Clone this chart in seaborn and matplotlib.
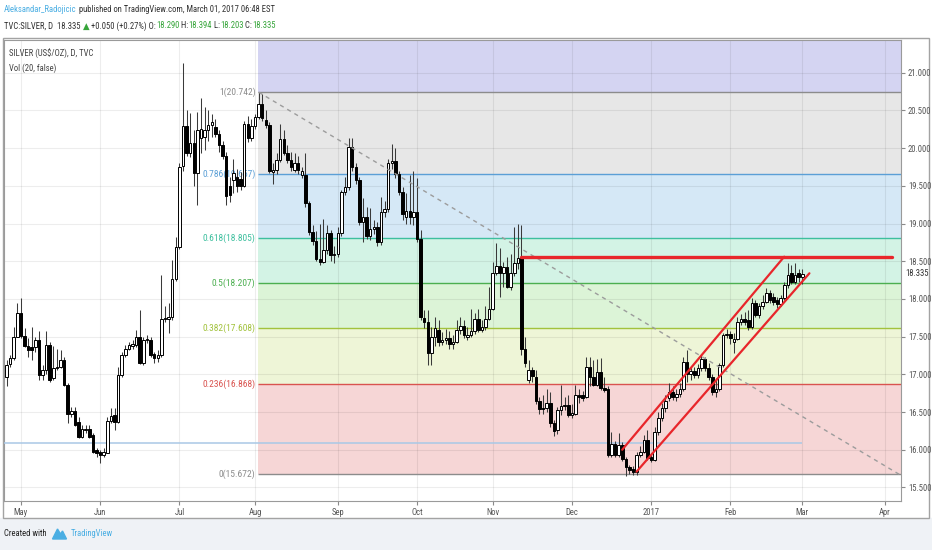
import numpy as np
import pandas as pd
import matplotlib
matplotlib.use("Agg")
import matplotlib.pyplot as plt
import matplotlib.patches as mpatches
from matplotlib import font_manager
import seaborn as sns

## DATA - daily SILVER candles (26 Apr 2016 -> 1 Mar 2017)
first_day = "2016-04-26"
axis_end = "2017-04-28"

opens = [
    16.97, 17.14, 17.21, 17.50, 17.81, 17.51, 17.37, 17.36, 17.36, 17.46,
    16.99, 17.06, 17.39, 16.95, 17.08, 17.10, 17.19, 16.86, 16.47, 16.52,
    16.37, 16.17, 16.26, 16.28, 16.20, 15.99, 15.97, 15.93, 15.96, 16.38,
    16.46, 16.37, 16.99, 17.26, 17.33, 17.38, 17.39, 17.49, 17.15, 17.45,
    17.46, 17.27, 17.21, 17.26, 17.73, 17.74, 17.76, 18.26, 18.69, 19.76,
    20.29, 19.93, 20.07, 19.67, 20.13, 20.15, 20.24, 20.31, 20.28, 20.19,
    20.04, 19.89, 19.50, 19.58, 19.62, 19.59, 19.50, 20.32, 20.13, 20.29,
    20.41, 20.59, 20.37, 20.31, 19.68, 19.71, 19.84, 20.12, 19.93, 19.84,
    19.71, 19.80, 19.65, 19.65, 19.27, 18.89, 18.77, 18.53, 18.49, 18.65,
    18.87, 18.58, 18.60, 18.87, 19.42, 19.49, 20.02, 19.75, 19.58, 19.02,
    19.08, 18.84, 18.93, 18.96, 18.76, 19.15, 19.19, 19.80, 19.83, 19.66,
    19.42, 19.08, 19.16, 19.08, 19.15, 18.80, 17.75, 17.70, 17.28, 17.50,
    17.59, 17.43, 17.45, 17.48, 17.40, 17.43, 17.59, 17.64, 17.50, 17.52,
    17.57, 17.73, 17.59, 17.63, 17.74, 17.87, 18.34, 18.44, 18.34, 18.43,
    18.16, 18.34, 18.47, 18.54, 17.34, 16.93, 17.06, 16.97, 16.64, 16.56,
    16.55, 16.62, 16.35, 16.26, 16.53, 16.58, 16.59, 16.46, 16.48, 16.73,
    16.72, 16.70, 17.10, 16.97, 16.86, 17.03, 16.82, 16.80, 15.93, 16.08,
    15.93, 16.06, 15.88, 15.77, 15.75, 15.70, 15.93, 15.97, 16.13, 15.91,
    15.87, 16.24, 16.42, 16.55, 16.68, 16.76, 16.70, 16.74, 16.80, 17.17,
    17.01, 17.05, 16.99, 17.08, 17.20, 17.08, 16.97, 16.76, 16.80, 17.12,
    17.52, 17.53, 17.43, 17.47, 17.70, 17.74, 17.72, 17.63, 17.94, 17.79,
    17.90, 17.96, 18.08, 18.03, 17.99, 17.93, 18.01, 18.18, 18.34, 18.23,
    18.34, 18.29,
]
highs = [
    17.19, 17.26, 17.63, 17.94, 18.01, 17.61, 17.48, 17.63, 17.50, 17.57,
    17.12, 17.57, 17.43, 17.37, 17.34, 17.32, 17.23, 16.88, 16.57, 16.57,
    16.44, 16.33, 16.33, 16.33, 16.22, 16.02, 15.99, 16.02, 16.44, 16.55,
    16.55, 17.10, 17.30, 17.39, 17.43, 17.45, 17.59, 17.85, 17.50, 17.52,
    17.50, 17.29, 17.32, 18.32, 17.90, 17.94, 18.52, 18.82, 19.80, 21.13,
    20.50, 20.47, 20.24, 20.48, 20.66, 20.55, 20.50, 20.45, 20.38, 20.24,
    20.10, 19.95, 19.62, 19.85, 19.72, 19.68, 20.36, 20.42, 20.38, 20.45,
    20.742, 20.72, 20.51, 20.35, 19.80, 19.93, 20.32, 20.24, 20.04, 19.95,
    19.93, 19.90, 19.75, 19.93, 19.30, 18.98, 18.90, 19.00, 19.06, 18.98,
    18.92, 18.70, 18.95, 19.45, 19.62, 20.13, 20.13, 19.80, 19.62, 19.34,
    19.22, 19.20, 19.05, 19.02, 19.35, 19.30, 19.85, 20.06, 20.00, 19.70,
    19.48, 19.40, 19.65, 19.70, 19.60, 18.91, 17.85, 17.85, 17.63, 17.76,
    17.72, 17.56, 17.60, 17.58, 17.52, 17.72, 17.76, 17.72, 17.63, 17.87,
    17.81, 17.87, 17.72, 17.90, 18.16, 18.49, 18.74, 18.67, 18.49, 18.56,
    18.60, 18.95, 19.00, 18.98, 17.49, 17.19, 17.10, 17.06, 16.70, 16.72,
    16.81, 16.77, 16.39, 16.57, 16.86, 16.70, 16.72, 16.60, 16.86, 16.80,
    16.78, 17.23, 17.23, 17.19, 17.20, 17.21, 16.97, 16.85, 16.24, 16.12,
    16.22, 16.10, 15.90, 15.80, 15.78, 15.97, 16.05, 16.20, 16.26, 15.96,
    16.30, 16.50, 16.62, 16.72, 16.88, 16.85, 16.80, 16.88, 17.23, 17.32,
    17.10, 17.10, 17.14, 17.25, 17.23, 17.15, 17.00, 16.95, 17.15, 17.55,
    17.60, 17.58, 17.55, 17.76, 17.80, 17.82, 17.85, 18.01, 17.98, 17.95,
    18.05, 18.14, 18.12, 18.08, 18.02, 18.05, 18.22, 18.47, 18.45, 18.48,
    18.40, 18.394,
]
lows = [
    16.85, 17.10, 17.19, 17.49, 17.48, 17.36, 17.23, 17.19, 17.30, 16.92,
    16.92, 17.01, 16.90, 16.92, 17.06, 17.08, 16.85, 16.35, 16.44, 16.31,
    16.15, 16.15, 16.22, 16.15, 15.96, 15.91, 15.83, 15.91, 15.95, 16.35,
    16.26, 16.35, 16.97, 17.23, 17.32, 17.34, 17.36, 17.14, 17.13, 17.41,
    17.23, 17.15, 17.17, 17.23, 17.70, 17.55, 17.72, 18.24, 18.66, 19.70,
    19.90, 19.88, 19.50, 19.25, 19.93, 19.98, 20.10, 20.15, 20.15, 19.95,
    19.85, 19.25, 19.28, 19.40, 19.42, 19.45, 19.48, 20.08, 20.10, 20.26,
    20.38, 20.36, 20.27, 19.67, 19.53, 19.66, 19.82, 19.91, 19.80, 19.70,
    19.68, 19.66, 19.60, 19.22, 18.85, 18.72, 18.50, 18.45, 18.47, 18.60,
    18.50, 18.48, 18.56, 18.84, 19.38, 19.45, 19.70, 19.52, 18.98, 18.76,
    18.80, 18.78, 18.86, 18.70, 18.72, 19.08, 19.15, 19.72, 19.60, 19.38,
    19.05, 19.00, 19.00, 18.98, 18.75, 17.72, 17.62, 17.12, 17.12, 17.37,
    17.37, 17.39, 17.40, 17.34, 17.34, 17.41, 17.54, 17.48, 17.45, 17.50,
    17.54, 17.56, 17.56, 17.59, 17.72, 17.85, 18.32, 18.03, 18.16, 18.14,
    18.12, 18.30, 18.40, 17.25, 17.10, 16.88, 16.90, 16.61, 16.48, 16.48,
    16.50, 16.30, 16.18, 16.21, 16.46, 16.53, 16.43, 16.42, 16.46, 16.62,
    16.64, 16.68, 16.84, 16.84, 16.84, 16.79, 16.77, 15.90, 15.90, 15.90,
    15.91, 15.85, 15.65, 15.68, 15.66, 15.67, 15.90, 15.95, 15.86, 15.84,
    15.85, 16.20, 16.38, 16.50, 16.64, 16.66, 16.65, 16.70, 16.78, 16.90,
    16.93, 16.95, 16.95, 17.04, 17.05, 16.92, 16.72, 16.70, 16.78, 17.10,
    17.48, 17.40, 17.28, 17.45, 17.66, 17.66, 17.59, 17.60, 17.76, 17.75,
    17.86, 17.94, 17.95, 17.92, 17.88, 17.90, 17.98, 18.15, 18.20, 18.20,
    18.22, 18.203,
]
closes = [
    17.12, 17.22, 17.50, 17.81, 17.51, 17.37, 17.32, 17.32, 17.46, 16.99,
    17.06, 17.39, 16.92, 17.08, 17.10, 17.19, 16.86, 16.47, 16.52, 16.33,
    16.17, 16.28, 16.28, 16.17, 15.97, 15.96, 15.93, 15.97, 16.38, 16.45,
    16.37, 16.99, 17.26, 17.33, 17.39, 17.40, 17.49, 17.15, 17.46, 17.46,
    17.26, 17.21, 17.26, 17.73, 17.74, 17.76, 18.26, 18.69, 19.75, 20.29,
    19.93, 20.07, 19.67, 20.24, 20.25, 20.24, 20.31, 20.35, 20.19, 20.04,
    19.89, 19.37, 19.38, 19.67, 19.50, 19.50, 20.32, 20.13, 20.29, 20.41,
    20.59, 20.40, 20.31, 19.69, 19.71, 19.84, 20.12, 19.93, 19.84, 19.75,
    19.80, 19.71, 19.70, 19.27, 18.89, 18.77, 18.53, 18.49, 18.65, 18.87,
    18.58, 18.60, 18.87, 19.42, 19.49, 20.02, 19.75, 19.58, 19.02, 19.08,
    18.84, 18.93, 18.96, 18.76, 19.15, 19.19, 19.80, 19.83, 19.66, 19.42,
    19.13, 19.17, 19.08, 19.15, 18.79, 17.76, 17.70, 17.28, 17.50, 17.62,
    17.43, 17.45, 17.48, 17.40, 17.43, 17.59, 17.64, 17.52, 17.52, 17.57,
    17.73, 17.59, 17.63, 17.74, 17.87, 18.34, 18.44, 18.34, 18.43, 18.16,
    18.34, 18.47, 18.54, 17.34, 17.15, 17.06, 16.98, 16.64, 16.54, 16.54,
    16.62, 16.35, 16.25, 16.53, 16.58, 16.59, 16.46, 16.49, 16.73, 16.70,
    16.68, 17.10, 16.97, 16.86, 17.03, 16.82, 16.79, 15.93, 16.08, 15.93,
    16.06, 15.88, 15.77, 15.73, 15.70, 15.93, 15.97, 16.13, 15.89, 15.87,
    16.24, 16.42, 16.55, 16.64, 16.76, 16.70, 16.74, 16.80, 17.17, 17.01,
    17.05, 16.99, 17.08, 17.20, 17.08, 16.97, 16.76, 16.80, 17.12, 17.52,
    17.53, 17.48, 17.47, 17.70, 17.73, 17.70, 17.63, 17.94, 17.79, 17.90,
    17.96, 18.08, 17.98, 17.96, 17.93, 18.01, 18.18, 18.32, 18.23, 18.32,
    18.29, 18.335,
]

price_ticks = [15.5, 16.0, 16.5, 17.0, 17.5, 18.0, 18.5, 19.0, 19.5, 20.0, 20.5, 21.0]
last_price = 18.335

#### Fibonacci retracement
fib_labels = ["1", "0.786", "0.618", "0.5", "0.382", "0.236", "0"]
fib_prices = [20.742, 19.657, 18.805, 18.207, 17.608, 16.868, 15.672]
fib_line_colors = ["#8c8c8c", "#5b9fd6", "#3dbf9e", "#4caf50", "#a2c23c", "#d9534f", "#8c8c8c"]
fib_band_colors = ["#d4d4f2", "#e7e7e7", "#d5e8f6", "#d3f3e5", "#dcf4d7", "#eef5d7", "#f6d6d6"]
fib_start = "2016-08-02"
trend_end = "2017-04-07"

#### Other drawings
support_price = 16.09
support_end = "2017-03-01"
resist_price = 18.56
resist_dates = ["2016-11-11", "2017-04-05"]
chan_up_dates = ["2016-12-21", "2017-02-22"]
chan_up_prices = [16.00, 18.56]
chan_lo_dates = ["2016-12-27", "2017-03-03"]
chan_lo_prices = [15.71, 18.34]

assert len(opens) == len(highs) == len(lows) == len(closes)

## FONTS
sns.set_theme(style="white")
names = {f.name for f in font_manager.fontManager.ttflist}
narrow = next((n for n in ["Liberation Sans Narrow", "Roboto Condensed", "Open Sans Condensed"] if n in names),
              "Liberation Sans")
plt.rcParams["font.family"] = [narrow, "DejaVu Sans"]
fs = 6.2 if narrow != "Liberation Sans" else 5.6

## FIGURE
days = pd.bdate_range(first_day, axis_end)
def pos(d):
    return days.get_loc(pd.Timestamp(d))

o = np.array(opens); h = np.array(highs); l = np.array(lows); c = np.array(closes)
x = np.arange(len(o))

W, H = 932, 550
fig = plt.figure(figsize=(W / 100, H / 100), dpi=100)
fig.patch.set_facecolor("white")
fig.patches.append(mpatches.Rectangle((0, 0), 1, 32 / H, transform=fig.transFigure,
                                      color="#eff2f6", zorder=-3))
fig.patches.append(mpatches.Rectangle((3 / W, 1 - 518 / H), 926 / W, 480 / H, transform=fig.transFigure,
                                      facecolor="white", edgecolor="#a3a3a3", lw=1, zorder=-2))

ax = fig.add_axes([4 / W, 1 - 501 / H, 897 / W, 461 / H])
ax.set_zorder(1)
ax.set_xlim(-0.72, 248.44)
ax.set_ylim(15.32, 21.434)
xl, xr = ax.get_xlim()
yb, yt = ax.get_ylim()

#### month ticks = first trading day of each month
s = pd.Series(np.arange(len(days)), index=days)
firsts = s.groupby([days.year, days.month]).first().iloc[1:]
month_pos = firsts.values
month_labels = [str(y) if m == 1 else pd.Timestamp(year=y, month=m, day=1).strftime("%b")
                for y, m in firsts.index]

#### grid
ax.vlines(month_pos, yb, yt, color=(0, 0, 0, 0.07), lw=0.8, zorder=2)
ax.hlines(price_ticks, xl, xr, color=(0, 0, 0, 0.07), lw=0.8, zorder=2)

#### fib zones
fx = pos(fib_start) - 0.2
tops = [yt] + fib_prices[:-1]
for top, bot, col in zip(tops, fib_prices, fib_band_colors):
    ax.fill_between([fx, xr], bot, top, color=col, lw=0, zorder=1)
for lab, p, col in zip(fib_labels, fib_prices, fib_line_colors):
    ax.hlines(p, fx, xr, color=col, lw=1, zorder=3)
    ax.text(fx - 0.6, p, f"{lab}({p:.3f})", color=col, ha="right", va="center",
            fontsize=fs + 0.6, zorder=3.5)

ax.hlines(support_price, xl, pos(support_end), color="#a9c8e6", lw=1.1, zorder=3)

#### candles
up = c >= o
ax.vlines(x, l, h, color="#3a3a3a", lw=0.75, zorder=5)
ax.bar(x, np.maximum(np.abs(c - o), 0.012), bottom=np.minimum(o, c), width=0.72,
       color=np.where(up, "white", "black"), edgecolor="black", linewidth=0.7, zorder=6)

#### drawings
ax.plot([pos(fib_start), pos(trend_end)], [fib_prices[0], fib_prices[-1]],
        color="#9c9c9c", lw=1, dashes=(3, 3), zorder=7)
sns.lineplot(x=[pos(d) for d in resist_dates], y=[resist_price, resist_price], ax=ax,
             color="#e8262b", lw=2.4, zorder=8)
sns.lineplot(x=[pos(d) for d in chan_up_dates], y=chan_up_prices, ax=ax,
             color="#e8262b", lw=1.6, zorder=8)
sns.lineplot(x=[pos(d) for d in chan_lo_dates], y=chan_lo_prices, ax=ax,
             color="#e8262b", lw=1.6, zorder=8)
ax.set_xlim(xl, xr)
ax.set_ylim(yb, yt)

#### axes
ax.yaxis.tick_right()
ax.set_yticks(price_ticks)
ax.set_yticklabels([f"{v:.3f}" for v in price_ticks])
ax.set_xticks(month_pos)
ax.set_xticklabels(month_labels)
ax.tick_params(axis="y", right=True, left=False, length=3, width=0.8, color="#8a8a8a",
               labelsize=fs, labelcolor="#555555", pad=2)
ax.tick_params(axis="x", bottom=True, length=3, width=0.8, color="#8a8a8a",
               labelsize=fs, labelcolor="#555555", pad=2)
ax.set_xlabel("")
ax.set_ylabel("")
for sp in ax.spines.values():
    sp.set_color("#9a9a9a")
    sp.set_linewidth(0.8)
ax.text(1 + 4 / 897, last_price, f"{last_price:.3f}", transform=ax.get_yaxis_transform(),
        ha="left", va="center", fontsize=fs, color="#333333")

#### texts
renderer = fig.canvas.get_renderer()
def text_row(x_px, y_px, pieces, size):
    for txt, col in pieces:
        t = fig.text(x_px / W, 1 - y_px / H, txt, color=col, fontsize=size, ha="left", va="center")
        x_px += t.get_window_extent(renderer).width
    return x_px

dark = "#333333"
green = "#36a53a"
blue = "#4aaee3"
text_row(4, 10, [("Aleksandar_Radojicic", blue),
                 (" published on TradingView.com, March 01, 2017 06:48 EST", dark)], fs)
text_row(4, 26, [("TVC:SILVER, D  18.335 ", dark), ("▲", green), (" +0.050 (+0.27%) O:", dark),
                 ("18.290", green), (" H:", dark), ("18.394", green), (" L:", dark),
                 ("18.203", green), (" C:", dark), ("18.335", green)], fs)
text_row(9, 54, [("SILVER (US$/OZ), D, TVC", "#444444")], fs)
text_row(9, 68, [("Vol (20, false)", "#444444")], fs)
end = text_row(4, 534, [("Created with", "#222222")], fs)
lx = end + 6
fig.patches.append(mpatches.Polygon([[lx / W, 1 - 539 / H], [(lx + 5) / W, 1 - 529 / H],
                                     [(lx + 8) / W, 1 - 534 / H], [(lx + 10) / W, 1 - 531 / H],
                                     [(lx + 14) / W, 1 - 539 / H]],
                                    closed=True, transform=fig.transFigure, color=blue, zorder=2))
text_row(lx + 18, 534, [("TradingView", blue)], fs)

fig.savefig("out.png", dpi=100)
